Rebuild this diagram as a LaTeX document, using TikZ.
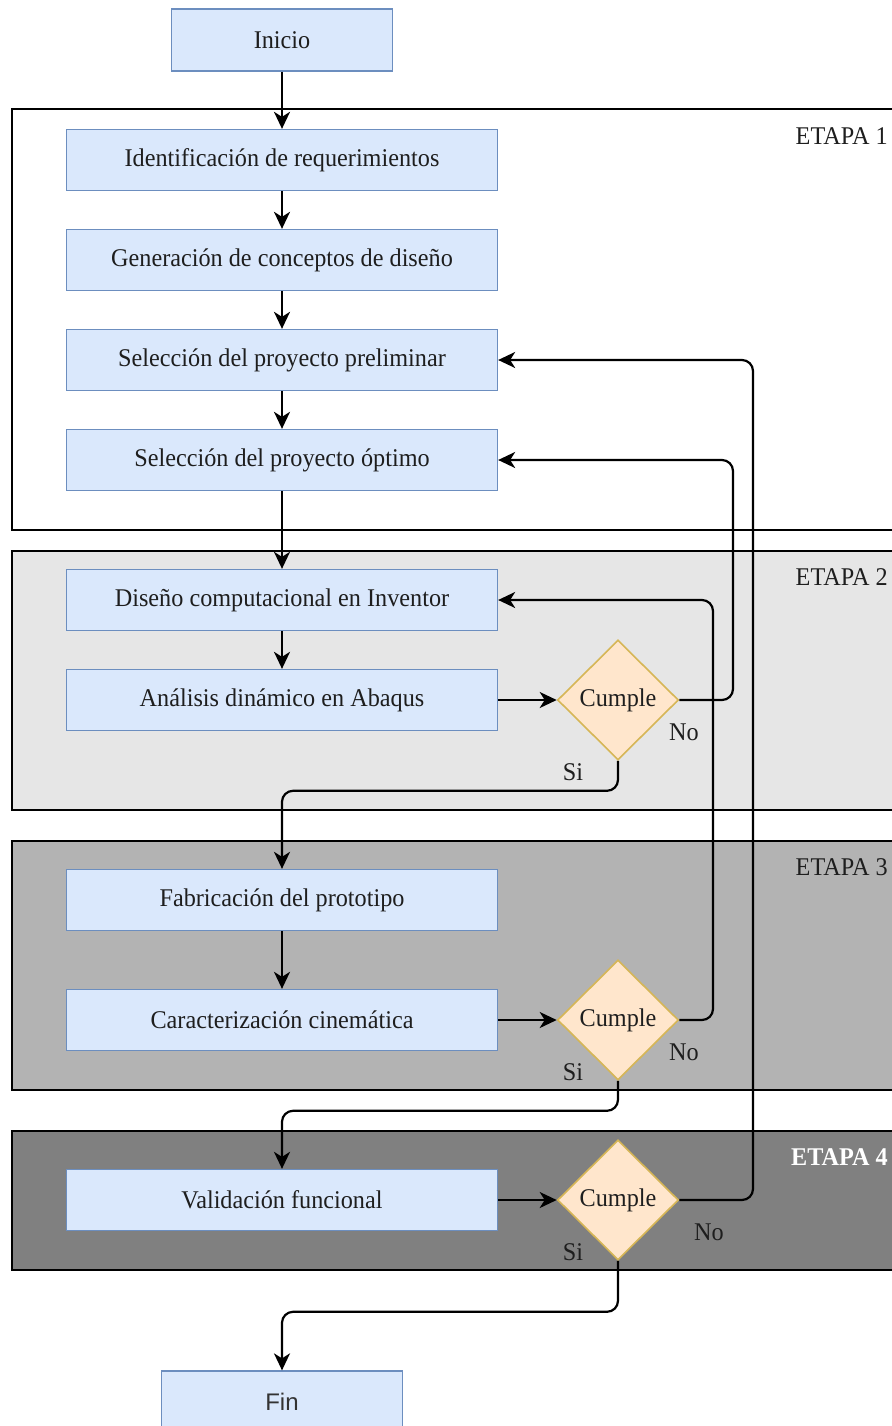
\documentclass[tikz,border=0pt]{standalone}
\usepackage{fontspec}
\setmainfont[FakeStretch=0.95]{Liberation Serif}
\newfontfamily\finfont{Liberation Sans}
\usetikzlibrary{shapes.geometric,arrows.meta,calc}

\definecolor{boxfill}{HTML}{DAE8FC}
\definecolor{boxline}{HTML}{6C8EBF}
\definecolor{decfill}{HTML}{FFE6CC}
\definecolor{decline}{HTML}{D6B656}
\definecolor{etapaA}{HTML}{FFFFFF}
\definecolor{etapaB}{HTML}{E6E6E6}
\definecolor{etapaC}{HTML}{B3B3B3}
\definecolor{etapaD}{HTML}{808080}
\definecolor{ink}{HTML}{1E1E1E}

\tikzset{
  txt/.style={font=\fontsize{25.5}{30}\selectfont},
  stepbox/.style={draw=boxline, fill=boxfill, line width=1.3pt,
    minimum width=431pt, minimum height=61pt, inner sep=0pt, txt, text=ink},
  endbox/.style={stepbox, minimum height=62pt},
  decision/.style={diamond, aspect=1, draw=decline, fill=decfill, line width=1.6pt,
    minimum width=121pt, minimum height=120pt, inner sep=0pt, txt, text=ink},
  stagebox/.style={draw=black, line width=2pt},
  stagelabel/.style={anchor=north east, inner sep=0pt, txt},
  edgelabel/.style={inner sep=0pt, txt, text=ink},
  arr/.style={draw=black, line width=2.2pt, rounded corners=11pt,
    -{Stealth[length=17pt,width=16pt,inset=5pt]}},
}

\begin{document}
\begin{tikzpicture}[x=1pt, y=-1pt]
\useasboundingbox (0,0) rectangle (891,1426);

% stage containers
\draw[stagebox, fill=etapaA] (12,109) rectangle (900,530);
\draw[stagebox, fill=etapaB] (12,551) rectangle (900,810);
\draw[stagebox, fill=etapaC] (12,841) rectangle (900,1090);
\draw[stagebox, fill=etapaD] (12,1131) rectangle (900,1270);

\node[stagelabel, text=ink] (e1) at (888,127) {ETAPA 1};
\node[stagelabel, text=ink] (e2) at (888,568) {ETAPA 2};
\node[stagelabel, text=ink] (e3) at (888,858) {ETAPA 3};
\node[stagelabel, text=white, font=\bfseries\fontsize{25.5}{30}\selectfont] (e4) at (888,1148) {ETAPA 4};

% process steps
\node[endbox, minimum width=221pt] (inicio) at (282,40) {Inicio};
\node[stepbox] (ident)  at (282,160) {Identificación de requerimientos};
\node[stepbox] (gen)    at (282,260) {Generación de conceptos de diseño};
\node[stepbox] (prelim) at (282,360) {Selección del proyecto preliminar};
\node[stepbox] (optimo) at (282,460) {Selección del proyecto óptimo};
\node[stepbox] (diseno) at (282,600) {Diseño computacional en Inventor};
\node[stepbox] (anal)   at (282,700) {Análisis dinámico en Abaqus};
\node[stepbox] (fab)    at (282,900) {Fabricación del prototipo};
\node[stepbox] (carac)  at (282,1020) {Caracterización cinemática};
\node[stepbox] (valid)  at (282,1200) {Validación funcional};
\node[endbox, minimum width=241pt, font=\finfont\fontsize{24}{28}\selectfont, text=black!80] (fin) at (282,1402) {Fin};

% decisions
\node[decision] (d1) at (618,700) {Cumple};
\node[decision] (d2) at (618,1020) {Cumple};
\node[decision] (d3) at (618,1200) {Cumple};

% main flow
\draw[arr] (inicio) -- (ident);
\draw[arr] (ident) -- (gen);
\draw[arr] (gen) -- (prelim);
\draw[arr] (prelim) -- (optimo);
\draw[arr] (optimo) -- (diseno);
\draw[arr] (diseno) -- (anal);
\draw[arr] (anal) -- (d1);
\draw[arr] (fab) -- (carac);
\draw[arr] (carac) -- (d2);
\draw[arr] (valid) -- (d3);

% "Si" branches
\draw[arr] (d1.south) -- ++(0,30) -| (fab.north);
\draw[arr] (d2.south) -- ++(0,30) -| (valid.north);
\draw[arr] (d3.south) -- ++(0,51) -| (fin.north);

% "No" branches
\coordinate (r1) at (733,700);
\coordinate (r2) at (713,1020);
\coordinate (r3) at (753,1200);
\draw[arr] (d1.east) -- (r1) |- (optimo.east);
\draw[arr] (d2.east) -- (r2) |- (diseno.east);
\draw[arr] (d3.east) -- (r3) |- (prelim.east);

% branch labels
\node[edgelabel] (si1) at (573,772) {Si};
\node[edgelabel] (no1) at (684,732) {No};
\node[edgelabel] (si2) at (573,1072) {Si};
\node[edgelabel] (no2) at (684,1052) {No};
\node[edgelabel] (si3) at (573,1252) {Si};
\node[edgelabel] (no3) at (709,1232) {No};
\end{tikzpicture}
\end{document}
